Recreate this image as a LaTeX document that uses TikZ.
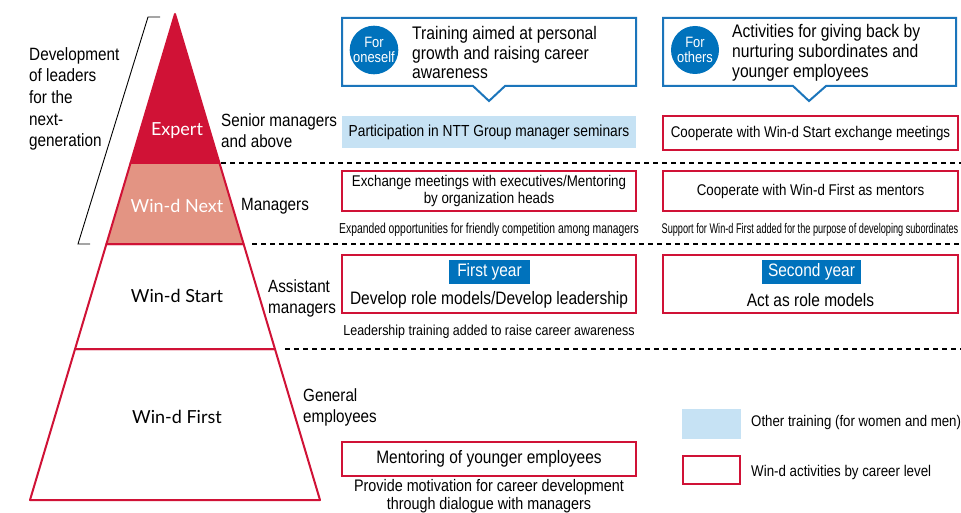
\documentclass[tikz,border=0pt]{standalone}
\usepackage{fontspec}
\setmainfont{Liberation Sans}[FakeStretch=0.86]
\newfontfamily\xcond{Liberation Sans}[FakeStretch=0.72]
\newfontfamily\xxcond{Liberation Sans}[FakeStretch=0.655]
\newfontfamily\pyr{Lato}
\definecolor{wdred}{RGB}{208,18,54}
\definecolor{wdsalmon}{RGB}{227,148,131}
\definecolor{wdblue}{RGB}{0,114,188}
\definecolor{wdline}{RGB}{27,117,187}
\definecolor{wdlight}{RGB}{198,226,244}
\begin{document}
\begin{tikzpicture}[x=1pt,y=-1pt,
  font=\fontsize{16}{19.5}\selectfont,
  redbox/.style={draw=wdred, line width=1.8pt, fill=white, inner sep=0pt},
  lightbox/.style={fill=wdlight, inner sep=0pt},
  tag/.style={fill=wdblue, text=white, inner sep=0pt, font=\fontsize{18}{20}\selectfont},
  badge/.style={circle, fill=wdblue, text=white, minimum size=48pt, inner sep=0pt, align=center, font=\fontsize{15}{15}\selectfont},
  pyrlabel/.style={font=\pyr\fontsize{18}{20}\selectfont},
  lvl/.style={anchor=west, align=left, inner sep=0pt, font=\fontsize{17.7}{21}\selectfont},
  small/.style={font=\xcond\fontsize{14.4}{16}\selectfont},
  sep/.style={dash pattern=on 5pt off 4pt, line width=1.1pt},
  callout/.style={draw=wdline, line width=2pt, fill=white, line join=miter},
  calltext/.style={anchor=west, align=left, inner sep=0pt, font=\fontsize{18.2}{19.8}\selectfont},
  pyrline/.style={draw=wdred, line width=2pt, line join=round}]
\useasboundingbox[fill=white] (0,0) rectangle (961,513);

% pyramid
\fill[wdred] (175,14) -- (219.45,163) -- (130.55,163) -- cycle;
\filldraw[pyrline, fill=wdsalmon] (130.55,163) -- (219.45,163) -- (243.6,244) -- (106.4,244) -- cycle;
\draw[pyrline] (175,14) -- (219.45,163) -- (130.55,163) -- cycle;
\draw[pyrline] (106.4,244) -- (243.6,244) -- (274.95,349) -- (75.05,349) -- cycle;
\draw[pyrline] (75.05,349) -- (274.95,349) -- (320,500) -- (30,500) -- cycle;

\node[pyrlabel, text=white] (expert) at (177,131) {Expert};
\node[pyrlabel, text=white] (next) at (177,206) {Win-d Next};
\node[pyrlabel] (start) at (177,296) {Win-d Start};
\node[pyrlabel] (first) at (177,417) {Win-d First};

% bracket
\draw[line width=0.9pt] (160,17) -- (148,17) -- (78,244) -- (90,244);
\node[anchor=north west, align=left, inner sep=0pt, font=\fontsize{17.8}{21.7}\selectfont] (dev) at (29,47) {Development\\of leaders\\for the\\next-\\generation};

% level labels
\node[lvl] (senior) at (221,130.5) {Senior managers\\and above};
\node[lvl] (mgr) at (241,206) {Managers};
\node[lvl] (asst) at (268,298) {Assistant\\managers};
\node[lvl] (gen) at (303,407) {General\\employees};

% separators
\draw[sep] (221,163) -- (961,163);
\draw[sep] (252,244) -- (961,244);
\draw[sep] (285,349) -- (961,349);

% callouts
\draw[callout] (342,18) -- (636,18) -- (636,86) -- (505,86) -- (489,101) -- (473,86) -- (342,86) -- cycle;
\node[badge] (self) at (374,50) {For\\oneself};
\node[calltext] (selftext) at (412,52.5) {Training aimed at personal\\growth and raising career\\awareness};

\draw[callout] (663,18) -- (956,18) -- (956,86) -- (826,86) -- (809,101) -- (793,86) -- (663,86) -- cycle;
\node[badge] (others) at (695,50) {For\\others};
\node[calltext] (otherstext) at (732,52.5) {Activities for giving back by\\nurturing subordinates and\\younger employees};

% row: senior
\node[lightbox, minimum width=294pt, minimum height=32pt] (ntt) at (489,132) {Participation in NTT Group manager seminars};
\node[redbox, minimum width=295pt, minimum height=34pt, font=\fontsize{15.5}{17.5}\selectfont] (coopstart) at (810.5,133) {Cooperate with Win-d Start exchange meetings};

% row: managers
\node[redbox, minimum width=294pt, minimum height=40pt, align=center, font=\fontsize{15.5}{17.5}\selectfont] (exch) at (489,191) {Exchange meetings with executives/Mentoring\\by organization heads};
\node[small] (expanded) at (489,230) {Expanded opportunities for friendly competition among managers};
\node[redbox, minimum width=295pt, minimum height=40pt, font=\fontsize{15.5}{17.5}\selectfont] (coopfirst) at (810.5,191) {Cooperate with Win-d First as mentors};
\node[font=\xxcond\fontsize{14}{16}\selectfont] (support) at (810,230) {Support for Win-d First added for the purpose of developing subordinates};

% row: assistant managers
\node[redbox, minimum width=294pt, minimum height=58pt] (fybox) at (489,284) {};
\node[tag, minimum width=81pt, minimum height=24pt] (fy) at (489.5,272) {First year};
\node[font=\fontsize{18}{20}\selectfont] (develop) at (489,300) {Develop role models/Develop leadership};
\node[font=\fontsize{14.5}{16}\selectfont] (leadership) at (489,332) {Leadership training added to raise career awareness};

\node[redbox, minimum width=295pt, minimum height=58pt] (sybox) at (810.5,284) {};
\node[tag, minimum width=99pt, minimum height=24pt] (sy) at (811.5,272) {Second year};
\node[font=\fontsize{18}{20}\selectfont] (act) at (810.5,300) {Act as role models};

% row: general
\node[redbox, minimum width=294pt, minimum height=34pt, font=\fontsize{18}{20}\selectfont] (mentor) at (489,459) {Mentoring of younger employees};
\node[align=center, inner sep=0pt, font=\fontsize{16.7}{18}\selectfont] (provide) at (489,496) {Provide motivation for career development\\through dialogue with managers};

% legend
\node[lightbox, minimum width=59pt, minimum height=30pt] (legblue) at (711.5,424) {};
\node[anchor=west, inner sep=0pt, font=\fontsize{15.4}{17}\selectfont] (legbluet) at (751,423) {Other training (for women and men)};
\node[redbox, minimum width=57pt, minimum height=28pt] (legred) at (711.5,470) {};
\node[anchor=west, inner sep=0pt, font=\fontsize{15.5}{17}\selectfont] (legredt) at (751,472) {Win-d activities by career level};
\end{tikzpicture}
\end{document}
